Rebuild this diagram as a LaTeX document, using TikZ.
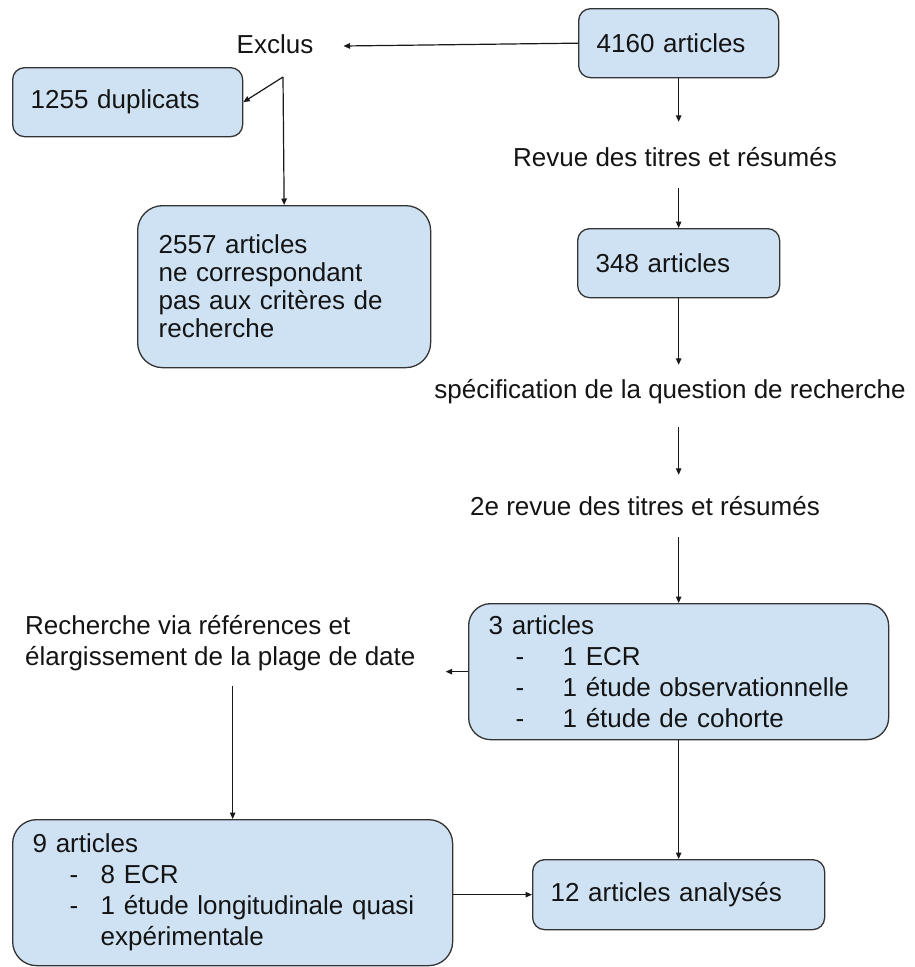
\documentclass[tikz,border=0pt]{standalone}
\usepackage{fontspec}
\setmainfont{Liberation Sans}
\usetikzlibrary{arrows.meta}
\definecolor{boxfill}{HTML}{CFE2F3}
\definecolor{boxline}{HTML}{333333}
\definecolor{txt}{HTML}{141414}
\begin{document}
\begin{tikzpicture}[x=1pt,y=-1pt,
  font=\fontsize{26}{31}\selectfont,
  box/.style={draw=boxline, fill=boxfill, line width=1.3pt, rounded corners=#1,
    anchor=north west, inner xsep=18pt, inner ysep=0pt, align=left, text=txt},
  box/.default=12pt,
  lbl/.style={inner sep=0pt, text height=19pt, text depth=5pt, text=txt},
  arr/.style={-{Triangle[length=6.5pt,width=5.5pt]}, line width=1.2pt, draw=black!90}]
\useasboundingbox (0,0) rectangle (914,967);

% boxes
\node[box, text width=164pt, minimum height=69pt] (n4160) at (578,8) {4160 articles};
\node[box, text width=194pt, minimum height=69pt] (n1255) at (12,67) {1255 duplicats};
\node[box=25pt, inner xsep=21pt, text width=251pt, minimum height=162pt,
      font=\fontsize{26}{28}\selectfont] (n2557) at (137,205)
  {2557 articles\\ne correspondant\\pas aux critères de\\recherche};
\node[box, text width=166pt, minimum height=69pt] (n348) at (577,228) {348 articles};
\node[box=22pt, inner xsep=20pt, text width=380pt, minimum height=136pt] (n3) at (468,603)
  {3 articles\\
   \hspace*{27pt}\makebox[47pt][l]{-}1 ECR\\
   \hspace*{27pt}\makebox[47pt][l]{-}1 étude observationnelle\\
   \hspace*{27pt}\makebox[47pt][l]{-}1 étude de cohorte};
\node[box=24pt, inner xsep=20pt, text width=400pt, minimum height=146pt] (n9) at (12,819)
  {9 articles\\
   \hspace*{37pt}\makebox[31pt][l]{-}8 ECR\\
   \hspace*{37pt}\makebox[31pt][l]{-}1 étude longitudinale quasi\\
   \hspace*{68pt}expérimentale};
\node[box, text width=256pt, minimum height=70pt] (n12) at (532,859) {12 articles analysés};

% free labels
\node[lbl, inner xsep=30pt] (exclus) at (275,46) {Exclus};
\node[lbl] (revue) at (675,159) {Revue des titres et résumés};
\node[lbl] (spec) at (670,391) {spécification de la question de recherche};
\node[lbl] (rev2) at (645,508) {2e revue des titres et résumés};
\node[inner sep=0pt, align=left, anchor=base west, text=txt] (rech) at (25,665)
  {Recherche via références et\\élargissement de la plage de date};
\coordinate (split) at (283,77);

% connectors
\draw[arr] (n4160.west) -- (exclus.east);
\draw[arr] (split) -- (n1255.east);
\draw[arr] (split) -- (n2557.north);
\draw[arr, shorten >=25pt] (n4160.south) -- (n4160.south |- revue.north);
\draw[arr, shorten <=17pt] (revue.south -| n348.north) -- (n348.north);
\draw[arr, shorten >=14pt] (n348.south) -- (n348.south |- spec.north);
\draw[arr, shorten <=24pt, shorten >=21pt] (spec.south -| n348.south) -- (rev2.north -| n348.south);
\draw[arr, shorten <=17pt] (rev2.south -| n3.north) -- (n3.north);
\draw[arr, shorten >=30pt] (n3.west) -- (n3.west -| rech.east);
\draw[arr, shorten <=15pt] (rech.south -| n9.north) -- (n9.north);
\draw[arr] (n3.south) -- (n12.north);
\draw[arr] (n9.east |- n12.west) -- (n12.west);
\end{tikzpicture}
\end{document}
